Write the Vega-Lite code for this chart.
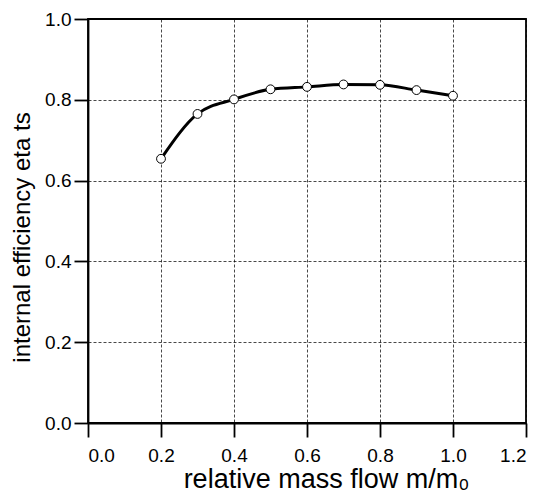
{
  "$schema": "https://vega.github.io/schema/vega-lite/v6.json",
  "width": 438,
  "height": 404,
  "autosize": {"type": "none"},
  "padding": {"left": 88, "top": 19, "right": 23, "bottom": 80},
  "background": "white",
  "config": {
    "view": {"stroke": "black", "strokeWidth": 1.8},
    "font": "Liberation Sans",
    "axis": {
      "domain": true, "domainColor": "black", "domainWidth": 1.8,
      "tickColor": "black", "tickWidth": 1.8, "tickSize": 14,
      "grid": true, "gridColor": "black", "gridDash": [3, 2], "gridWidth": 0.8, "gridOpacity": 0.9,
      "labelFont": "Liberation Sans", "labelFontSize": 19, "labelColor": "black",
      "titleFont": "Liberation Sans", "titleFontWeight": "normal", "titleColor": "black"
    }
  },
  "data": {
    "values": [
      {"x": 0.2, "y": 0.654},
      {"x": 0.3, "y": 0.765},
      {"x": 0.4, "y": 0.801},
      {"x": 0.5, "y": 0.826},
      {"x": 0.6, "y": 0.832},
      {"x": 0.7, "y": 0.838},
      {"x": 0.8, "y": 0.837},
      {"x": 0.9, "y": 0.824},
      {"x": 1.0, "y": 0.810}
    ]
  },
  "encoding": {
    "x": {
      "field": "x", "type": "quantitative",
      "scale": {"domain": [0, 1.2], "nice": false},
      "axis": {"values": [0, 0.2, 0.4, 0.6, 0.8, 1.0, 1.2], "format": ".1f", "title": "relative mass flow m/m₀", "labelPadding": 9, "titleFontSize": 27, "titleX": 238, "titleY": 64, "titleBaseline": "alphabetic", "titleAlign": "center"}
    },
    "y": {
      "field": "y", "type": "quantitative",
      "scale": {"domain": [0, 1.0], "nice": false},
      "axis": {"values": [0, 0.2, 0.4, 0.6, 0.8, 1.0], "format": ".1f", "title": "internal efficiency eta ts", "labelPadding": 3, "labelFontSize": 19, "titleFontSize": 24, "titleX": -59, "titleY": 218, "titleBaseline": "alphabetic", "titleAlign": "center", "titleAngle": 270}
    }
  },
  "layer": [
    {"mark": {"type": "line", "interpolate": "monotone", "color": "black", "strokeWidth": 3}},
    {"mark": {"type": "point", "shape": "circle", "filled": true, "fill": "white", "stroke": "black", "strokeWidth": 1, "size": 78, "opacity": 1}}
  ]
}
